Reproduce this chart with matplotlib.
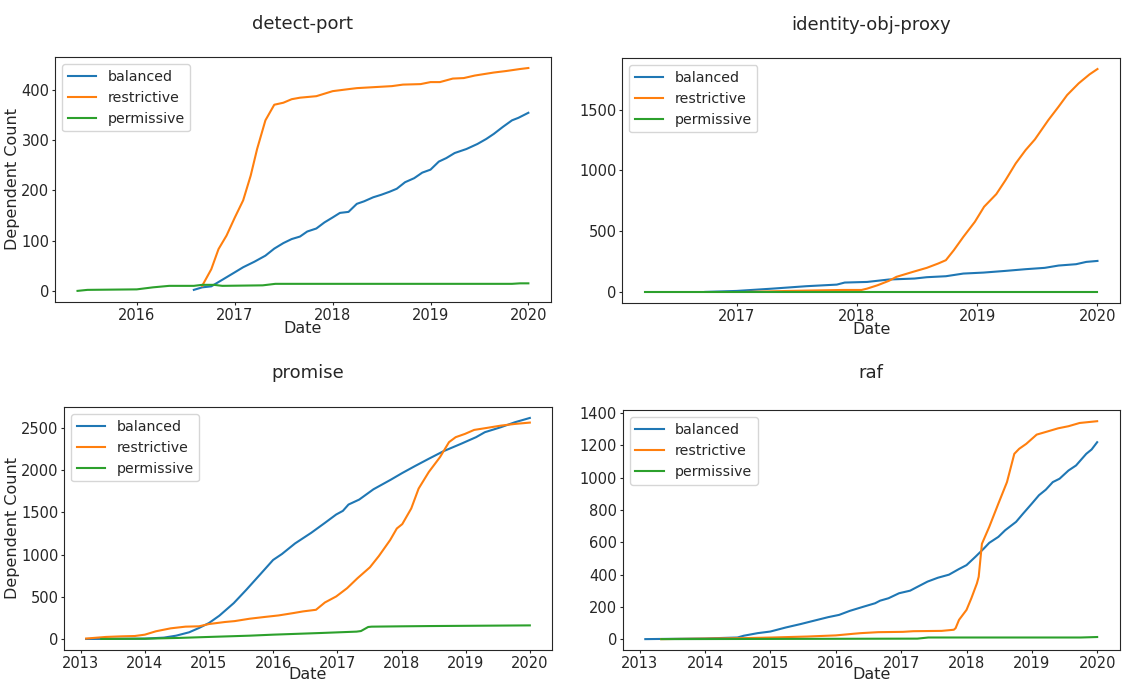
import pandas as pd
import matplotlib
matplotlib.use("Agg")
import matplotlib.pyplot as plt
import matplotlib.dates as mdates

plt.rcParams["font.family"] = "DejaVu Sans"
plt.rcParams["text.color"] = "#262626"
plt.rcParams["axes.labelcolor"] = "#262626"
plt.rcParams["xtick.color"] = "#262626"
plt.rcParams["ytick.color"] = "#262626"
plt.rcParams["axes.edgecolor"] = "#262626"

# ---- detect-port ----
dp_bal_dates = ["2016-08-01", "2016-09-01", "2016-10-05", "2016-11-15", "2017-01-01", "2017-02-01",
                "2017-03-15", "2017-04-25", "2017-05-28", "2017-07-01", "2017-08-01", "2017-09-01",
                "2017-09-28", "2017-11-01", "2017-12-01", "2018-01-01", "2018-01-28", "2018-03-01",
                "2018-04-01", "2018-04-28", "2018-06-01", "2018-07-01", "2018-08-01", "2018-08-28",
                "2018-09-28", "2018-11-01", "2018-12-01", "2019-01-01", "2019-02-01", "2019-03-01",
                "2019-04-01", "2019-05-15", "2019-06-25", "2019-07-28", "2019-08-25", "2019-09-28",
                "2019-11-01", "2019-11-25", "2020-01-01"]
dp_bal = [2, 7, 9, 22, 37, 47, 58, 70, 84, 95, 103, 108, 118, 124, 136, 146, 155, 157, 173, 178,
          186, 191, 197, 203, 216, 224, 235, 241, 257, 264, 274, 282, 292, 302, 312, 326, 339, 344, 354]
dp_res_dates = ["2016-09-01", "2016-10-05", "2016-11-01", "2016-12-01", "2017-01-01", "2017-02-01",
                "2017-03-01", "2017-03-25", "2017-04-25", "2017-05-28", "2017-07-01", "2017-08-01",
                "2017-09-01", "2017-11-01", "2018-01-01", "2018-03-01", "2018-04-01", "2018-08-10",
                "2018-09-20", "2018-11-25", "2019-01-01", "2019-02-05", "2019-03-25", "2019-05-05",
                "2019-06-15", "2019-08-25", "2019-10-10", "2019-12-01", "2020-01-01"]
dp_res = [10, 43, 83, 110, 146, 180, 229, 282, 339, 370, 374, 381, 384, 387, 397, 401, 403, 407,
          410, 411, 415, 415, 422, 423, 428, 434, 437, 441, 443]
dp_per_dates = ["2015-05-25", "2015-07-01", "2016-01-01", "2016-03-01", "2016-05-01", "2016-08-01",
                "2016-09-01", "2016-10-15", "2016-11-15", "2017-04-15", "2017-06-01", "2019-11-01",
                "2019-12-01", "2020-01-01"]
dp_per = [0, 2, 3, 7, 10, 10, 12, 12, 10, 11, 14, 14, 15, 15]

# ---- identity-obj-proxy ----
iop_bal_dates = ["2016-09-28", "2017-01-01", "2017-04-20", "2017-08-01", "2017-11-01", "2017-11-25",
                 "2018-02-01", "2018-04-08", "2018-06-25", "2018-08-01", "2018-09-28", "2018-11-20",
                 "2019-01-20", "2019-03-28", "2019-05-28", "2019-07-25", "2019-09-05", "2019-10-28",
                 "2019-11-28", "2020-01-01"]
iop_bal = [0, 8, 27, 47, 60, 77, 82, 102, 110, 121, 129, 151, 159, 173, 187, 198, 217, 228, 247, 255]
iop_res_dates = ["2017-02-01", "2017-04-20", "2017-08-01", "2017-11-20", "2018-01-15", "2018-02-01",
                 "2018-03-05", "2018-04-08", "2018-05-01", "2018-06-20", "2018-08-01", "2018-09-05",
                 "2018-09-28", "2018-10-22", "2018-11-20", "2018-12-25", "2019-01-22", "2019-02-28",
                 "2019-03-28", "2019-04-28", "2019-05-28", "2019-06-25", "2019-08-05", "2019-09-05",
                 "2019-10-01", "2019-11-05", "2019-12-08", "2020-01-01"]
iop_res = [0, 5, 11, 16, 16, 27, 55, 91, 124, 165, 198, 234, 261, 343, 453, 577, 701, 805, 920,
           1058, 1168, 1255, 1415, 1525, 1621, 1717, 1791, 1835]
iop_per_dates = ["2016-03-28", "2020-01-01"]
iop_per = [0, 0]

# ---- promise ----
pr_bal_dates = ["2013-02-01", "2014-01-01", "2014-04-20", "2014-06-28", "2014-09-10", "2014-11-05",
                "2015-01-01", "2015-03-01", "2015-05-22", "2015-08-01", "2015-10-20", "2016-01-01",
                "2016-02-20", "2016-05-05", "2016-08-05", "2016-10-22", "2016-12-25", "2017-02-01",
                "2017-03-05", "2017-05-05", "2017-07-25", "2017-11-01", "2018-01-05", "2018-03-18",
                "2018-06-05", "2018-08-28", "2018-12-05", "2019-03-01", "2019-04-20", "2019-07-20",
                "2019-10-08", "2020-01-01"]
pr_bal = [0, 4, 16, 39, 79, 130, 189, 276, 425, 582, 767, 937, 1007, 1133, 1259, 1377, 1476, 1519,
          1594, 1653, 1775, 1889, 1968, 2050, 2137, 2227, 2314, 2393, 2452, 2511, 2570, 2621]
pr_res_dates = ["2013-02-01", "2013-05-25", "2013-08-20", "2013-11-05", "2014-01-01", "2014-03-05",
                "2014-05-28", "2014-08-20", "2014-11-05", "2015-01-01", "2015-04-01", "2015-05-28",
                "2015-08-20", "2015-11-10", "2016-02-01", "2016-04-25", "2016-06-20", "2016-09-01",
                "2016-10-22", "2016-12-25", "2017-02-25", "2017-04-25", "2017-07-05", "2017-08-25",
                "2017-10-28", "2017-12-05", "2018-01-05", "2018-02-25", "2018-04-08", "2018-06-05",
                "2018-08-08", "2018-09-28", "2018-11-05", "2018-12-28", "2019-02-18", "2019-04-20",
                "2019-07-20", "2019-10-08", "2020-01-01"]
pr_res = [5, 24, 31, 35, 51, 91, 126, 146, 150, 177, 201, 212, 240, 260, 279, 307, 327, 346, 433,
          504, 602, 720, 850, 984, 1173, 1310, 1362, 1547, 1783, 1980, 2157, 2334, 2393, 2432,
          2479, 2499, 2530, 2550, 2566]
pr_per_dates = ["2013-04-28", "2014-01-01", "2014-07-08", "2015-01-01", "2015-08-20", "2016-01-01",
                "2016-10-01", "2017-04-20", "2017-05-15", "2017-06-25", "2017-07-15", "2018-01-01",
                "2018-06-05", "2020-01-01"]
pr_per = [0, 3, 12, 24, 39, 51, 71, 87, 94, 142, 146, 150, 153, 161]

# ---- raf ----
raf_bal_dates = ["2013-02-01", "2014-01-01", "2014-07-01", "2014-08-05", "2014-10-22", "2015-01-01",
                 "2015-03-28", "2015-06-18", "2015-09-05", "2015-11-20", "2016-01-20", "2016-03-20",
                 "2016-06-05", "2016-08-08", "2016-09-05", "2016-10-22", "2016-12-20", "2017-02-20",
                 "2017-03-28", "2017-05-28", "2017-07-25", "2017-09-25", "2017-11-20", "2018-01-01",
                 "2018-02-20", "2018-04-08", "2018-05-08", "2018-06-28", "2018-08-05", "2018-10-05",
                 "2018-11-10", "2019-01-01", "2019-02-10", "2019-03-20", "2019-04-28", "2019-06-05",
                 "2019-07-25", "2019-09-05", "2019-11-01", "2019-12-01", "2020-01-01"]
raf_bal = [0, 4, 10, 21, 37, 47, 72, 93, 115, 136, 150, 175, 201, 222, 238, 253, 284, 300, 321, 356,
           380, 399, 434, 458, 510, 561, 596, 633, 674, 726, 773, 839, 891, 925, 972, 993, 1044,
           1075, 1147, 1174, 1219]
raf_res_dates = ["2013-05-01", "2014-08-01", "2015-01-10", "2015-07-25", "2016-01-01", "2016-04-08",
                 "2016-05-20", "2016-08-25", "2017-01-10", "2017-03-10", "2017-08-15", "2017-10-22",
                 "2017-11-01", "2017-11-20", "2018-01-01", "2018-01-28", "2018-02-28", "2018-03-10",
                 "2018-03-28", "2018-05-08", "2018-06-28", "2018-08-15", "2018-09-25", "2018-10-22",
                 "2018-12-01", "2019-01-28", "2019-03-28", "2019-05-28", "2019-07-25", "2019-09-25",
                 "2020-01-01"]
raf_res = [0, 6, 10, 16, 23, 33, 37, 43, 45, 49, 51, 58, 68, 119, 181, 253, 345, 386, 590, 695,
           839, 972, 1147, 1178, 1209, 1266, 1285, 1305, 1318, 1338, 1349]
raf_per_dates = ["2013-05-01", "2017-04-01", "2017-06-01", "2019-10-01", "2020-01-01"]
raf_per = [0, 3, 10, 10, 13]

panels = [
    ("detect-port", dp_bal_dates, dp_bal, dp_res_dates, dp_res, dp_per_dates, dp_per),
    ("identity-obj-proxy", iop_bal_dates, iop_bal, iop_res_dates, iop_res, iop_per_dates, iop_per),
    ("promise", pr_bal_dates, pr_bal, pr_res_dates, pr_res, pr_per_dates, pr_per),
    ("raf", raf_bal_dates, raf_bal, raf_res_dates, raf_res, raf_per_dates, raf_per),
]

# axes boxes [left, bottom, width, height] in figure fraction
boxes = [
    [0.049, 0.5565, 0.442, 0.360],
    [0.5544, 0.555, 0.4439, 0.360],
    [0.057, 0.0455, 0.435, 0.357],
    [0.555, 0.0455, 0.443, 0.352],
]
title_pads = [20, 20, 21, 23]
xlabel_pads = [-1, -1, -2.5, -2.5]

fig = plt.figure(figsize=(11.22, 6.81), dpi=100)

for i, (name, bd, bv, rd, rv, pd_, pv) in enumerate(panels):
    ax = fig.add_axes(boxes[i])
    ax.plot(pd.to_datetime(bd), bv, color="#1f77b4", linewidth=1.5, label="balanced")
    ax.plot(pd.to_datetime(rd), rv, color="#ff7f0e", linewidth=1.5, label="restrictive")
    ax.plot(pd.to_datetime(pd_), pv, color="#2ca02c", linewidth=1.5, label="permissive")
    ax.xaxis.set_major_locator(mdates.YearLocator())
    ax.xaxis.set_major_formatter(mdates.DateFormatter("%Y"))
    ax.tick_params(labelsize=10.5, length=2.5, pad=1.5)
    ax.set_title(name, fontsize=13, pad=title_pads[i])
    ax.set_xlabel("Date", fontsize=11.5, labelpad=xlabel_pads[i])
    if i % 2 == 0:
        ax.set_ylabel("Dependent Count", fontsize=11.5, labelpad=1)
    ax.legend(loc="upper left", fontsize=10.2)

plt.savefig("out.png", dpi=100)
